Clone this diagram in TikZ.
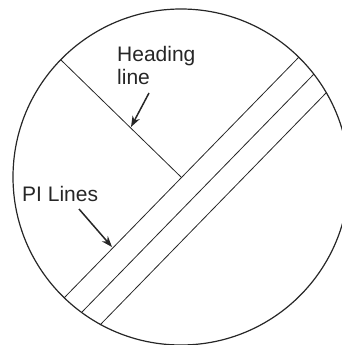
\documentclass[tikz,border=0pt]{standalone}
\usepackage{fontspec}
\setmainfont{Liberation Sans}
\usetikzlibrary{arrows.meta}

\begin{document}
\begin{tikzpicture}[
    x=1pt, y=-1pt,
    rim/.style={draw=black!85, line width=1.2pt},
    piline/.style={draw=black!85, line width=0.8pt},
    arr/.style={-{Stealth[length=11pt, width=8pt]}, line width=1.5pt, draw=black!85},
    lbl/.style={inner sep=0pt, anchor=north west, align=left,
        font=\fontsize{21}{23}\selectfont, text=black!85}
]
\useasboundingbox (0,0) rectangle (342,345);
\clip (0,0) rectangle (342,345);

% Circle
\coordinate (c) at (181,177);
\draw[rim] (c) circle[radius=168];

% PI lines
\coordinate (p1a) at (64,298);  \coordinate (p1b) at (299,57);
\coordinate (p2a) at (82,312);  \coordinate (p2b) at (314,74);
\coordinate (p3a) at (100,325); \coordinate (p3b) at (326,93);
\draw[piline] (p1a) -- (p1b);
\draw[piline] (p2a) -- (p2b);
\draw[piline] (p3a) -- (p3b);

% Heading line
\coordinate (h1) at (61,60);
\coordinate (h2) at (181,177);
\draw[piline] (h1) -- (h2);

% Labels
\node[lbl] (heading) at (117,46) {Heading\\line};
\node[lbl] (pilab) at (22,186) {PI Lines};

% Arrows
\coordinate (hdtail) at (149,93);
\coordinate (hdtip) at (131,127);
\coordinate (pitail) at (79,209);
\coordinate (pitip) at (112,247);
\draw[arr] (hdtail) -- (hdtip);
\draw[arr] (pitail) -- (pitip);

\end{tikzpicture}
\end{document}
